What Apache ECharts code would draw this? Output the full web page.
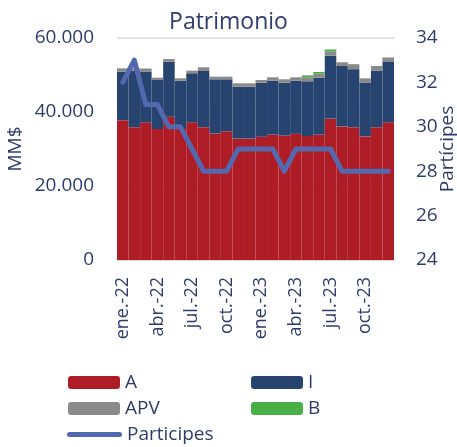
<!DOCTYPE html>
<html>
<head>
<meta charset="utf-8">
<script src="https://cdn.jsdelivr.net/npm/echarts@6/dist/echarts.min.js"></script>
<style>html,body{margin:0;padding:0;background:#fff}#c{width:457px;height:447px}</style>
</head>
<body>
<div id="c"></div>
<script>
var categories = ['ene.-22','feb.-22','mar.-22','abr.-22','may.-22','jun.-22','jul.-22','ago.-22','sept.-22','oct.-22','nov.-22','dic.-22',
                  'ene.-23','feb.-23','mar.-23','abr.-23','may.-23','jun.-23','jul.-23','ago.-23','sept.-23','oct.-23','nov.-23','dic.-23'];
var serieA = [37800,35900,37200,35400,38700,35400,37200,35900,34200,34800,32800,32800,33300,33900,33600,34100,33500,33900,38200,36100,35900,33400,35900,37200];
var serieI = [13100,15200,13750,13250,14900,13070,13270,15190,14640,14040,14040,14040,14620,14570,14320,14370,14800,15380,17020,16340,15670,14580,15270,16320];
var serieAPV = [900,700,800,630,730,640,700,1000,710,710,920,900,730,910,920,910,1100,1080,1140,1020,1350,1130,1270,1220];
var serieB = [0,0,0,0,0,0,0,0,0,0,0,0,0,0,0,0,500,460,540,0,0,0,0,0];
var participes = [32,33,31,31,30,30,29,28,28,28,29,29,29,29,28,29,29,29,29,28,28,28,28,28];
var leftTicks = {min:0, max:60000, interval:20000};
var rightTicks = {min:24, max:34, interval:2};

var navy = '#2E3B6B';
var font = 'Open Sans';
var chart = echarts.init(document.getElementById('c'), null, {renderer:'canvas'});
function fmt(v){ return String(v).replace(/\B(?=(\d{3})+(?!\d))/g,'.'); }
function leg(name, left, top, extra){
  var o = {data:[name], left:left, top:top, itemWidth:52, itemHeight:13, padding:0,
    textStyle:{color:navy, fontSize:19, fontFamily:font}, selectedMode:false};
  for (var k in extra) o[k]=extra[k];
  return o;
}
var capsule = 'path://M2.5,0 L52.5,0 A2.5,2.5 0 0 1 52.5,5 L2.5,5 A2.5,2.5 0 0 1 2.5,0 Z';
chart.setOption({
  animation:false,
  title:{text:'Patrimonio', left:'center', top:6, textStyle:{color:navy, fontSize:23, fontWeight:'normal', fontFamily:font}},
  grid:{left:117, right:63, top:38, bottom:187, containLabel:false, outerBoundsMode:'none'},
  legend:[
    leg('A', 68, 373),
    leg('I', 251, 373),
    leg('APV', 68, 399),
    leg('B', 251, 399),
    leg('Participes', 67, 425, {itemWidth:55, itemHeight:5, icon:capsule})
  ],
  xAxis:{type:'category', data:categories,
    axisLine:{show:true, lineStyle:{color:'#D9D9D9', width:1}},
    axisTick:{show:false},
    axisLabel:{interval:2, rotate:90, margin:17, color:navy, fontSize:18, fontFamily:font}},
  yAxis:[
    {type:'value', min:leftTicks.min, max:leftTicks.max, interval:leftTicks.interval,
     name:'MM$', nameLocation:'middle', nameGap:92, nameMoveOverlap:false, nameTextStyle:{color:navy, fontSize:19, fontFamily:font},
     axisLabel:{formatter:fmt, color:navy, fontSize:19, margin:23, fontFamily:font},
     splitLine:{lineStyle:{color:'#D9D9D9', width:1.5}}, axisLine:{show:false}, axisTick:{show:false}},
    {type:'value', min:rightTicks.min, max:rightTicks.max, interval:rightTicks.interval,
     name:'Partícipes', nameLocation:'middle', nameGap:44, nameRotate:90, nameMoveOverlap:false, nameTextStyle:{color:navy, fontSize:19, fontFamily:font},
     axisLabel:{color:navy, fontSize:19, margin:22, fontFamily:font},
     splitLine:{show:false}, axisLine:{show:false}, axisTick:{show:false}}
  ],
  series:[
    {name:'A', type:'bar', stack:'t', data:serieA, barCategoryGap:'0%', itemStyle:{color:'#AE1C26'}},
    {name:'I', type:'bar', stack:'t', data:serieI, itemStyle:{color:'#26446F'}},
    {name:'APV', type:'bar', stack:'t', data:serieAPV, itemStyle:{color:'#8A8A8A'}},
    {name:'B', type:'bar', stack:'t', data:serieB, itemStyle:{color:'#4AAE47'}},
    {name:'Participes', type:'line', yAxisIndex:1, data:participes, symbol:'none',
     lineStyle:{color:'#5468B0', width:5, cap:'round', join:'round'}, itemStyle:{color:'#5468B0'}}
  ]
});
</script>
</body>
</html>
